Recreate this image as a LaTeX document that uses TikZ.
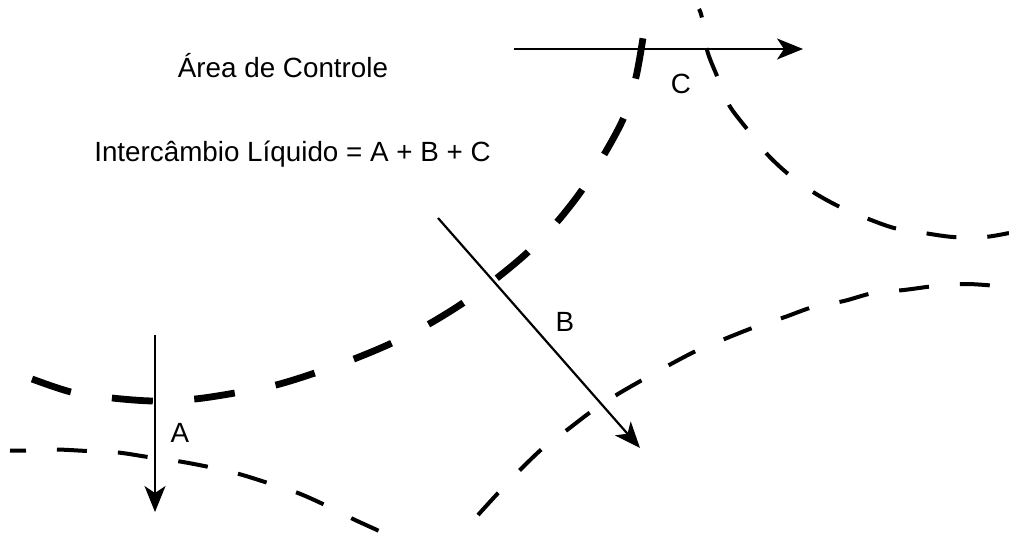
\documentclass[tikz,border=0pt]{standalone}
\usepackage{fontspec}
\setmainfont{Liberation Sans}
\usetikzlibrary{arrows.meta}
\begin{document}
\begin{tikzpicture}[x=1pt,y=-1pt,
  thickbound/.style={line width=6.8pt, dash pattern=on 41pt off 41.5pt},
  thinbound/.style={line width=4pt, dash pattern=on 30pt off 31pt},
  flow/.style={line width=2.2pt, -{Stealth[length=26pt,width=21pt,inset=7pt]}},
  lbl/.style={font=\fontsize{27.8}{33}\selectfont, inner sep=0pt, anchor=base}]
\useasboundingbox (0,0) rectangle (1009,534);
% control area boundary (thick)
\draw[thickbound] plot[smooth] coordinates {(32,379) (71,392) (112,398) (153,401) (195,399) (235,393) (276,385) (315,373) (354,359) (392,343) (429,324) (463,303) (497,278) (528,252) (557,222) (582,190) (605,153) (624,117) (636,77) (643,38)};
% neighbouring boundaries (thin)
\draw[thinbound, dash phase=14pt] plot[smooth] coordinates {(10,450.5) (26,450.5) (56,449.5) (87,451) (118,452.5) (148,457) (180,461.5) (209,467) (239,474) (268,483) (298,493) (325,505) (353,519) (377,530) (385,534)};
\draw[thinbound] plot[smooth] coordinates {(478,515) (499,492) (521,469) (543,448) (567,430) (592,411) (618,394) (644,379) (671,364) (698,350) (727,338) (755,327) (785,317) (813,307) (844,301) (873,293) (904,290) (935,286) (967,284) (997,286)};
\draw[thinbound, dash phase=21pt] plot[smooth] coordinates {(699,9) (702,18) (707,50) (717,76) (729,105) (747,129) (766,153) (787,173) (813,192) (838,206) (866,218) (894,228) (924,233) (953,237) (985,237) (1009,233)};
% flows
\coordinate (a0) at (155,335); \coordinate (a1) at (155,512);
\coordinate (b0) at (438,218); \coordinate (b1) at (640,448);
\coordinate (c0) at (514,49);  \coordinate (c1) at (803,49);
\draw[flow] (a0) -- (a1);
\draw[flow] (b0) -- (b1);
\draw[flow] (c0) -- (c1);
% labels
\node[lbl] (title) at (283,78) {Área de Controle};
\node[lbl] (eq) at (292.5,162) {Intercâmbio Líquido = A + B + C};
\node[lbl] (la) at (180,442) {A};
\node[lbl] (lb) at (565,332) {B};
\node[lbl] (lc) at (681,94) {C};
\end{tikzpicture}
\end{document}
